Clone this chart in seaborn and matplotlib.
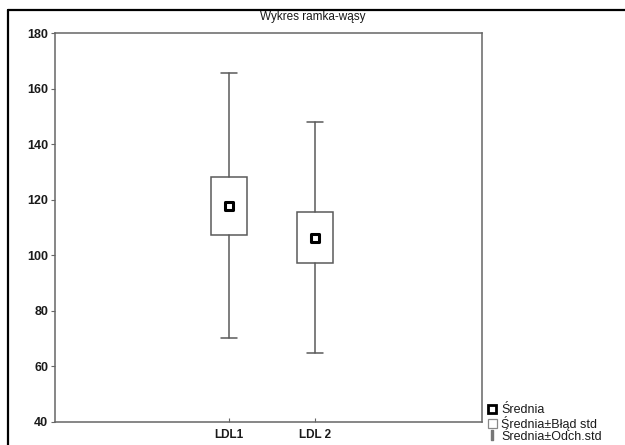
import matplotlib
matplotlib.use("Agg")
import matplotlib.pyplot as plt
import seaborn as sns
import pandas as pd
from matplotlib.lines import Line2D
from matplotlib.patches import Rectangle

# ---- data ----
categories = ["LDL1", "LDL 2"]
means = [117.8, 106.3]
std_errors = [10.5, 9.2]
std_devs = [47.7, 41.6]
y_ticks = [40, 60, 80, 100, 120, 140, 160, 180]
title = "Wykres ramka-wąsy"
legend_labels = ["Średnia", "Średnia±Błąd std", "Średnia±Odch.std"]

sns.set_style("ticks")
plt.rcParams['font.family'] = ['Liberation Sans', 'DejaVu Sans']

df = pd.DataFrame({"kategoria": categories, "srednia": means,
                   "se": std_errors, "sd": std_devs})
df["pos"] = range(len(df))

fig = plt.figure(figsize=(6.25, 4.45), dpi=100)
W, H = 625, 445
ax = fig.add_axes([55 / W, 1 - 422 / H, (482 - 55) / W, (422 - 33) / H])

grey = "#5a5a5a"
stats = []
for _, r in df.iterrows():
    stats.append(dict(med=r.srednia, q1=r.srednia - r.se, q3=r.srednia + r.se,
                      whislo=r.srednia - r.sd, whishi=r.srednia + r.sd,
                      mean=r.srednia, fliers=[], label=r.kategoria))
ax.bxp(stats, positions=df["pos"].tolist(), widths=0.42, showfliers=False,
       patch_artist=True, manage_ticks=False,
       boxprops=dict(facecolor="white", edgecolor=grey, linewidth=1.1),
       whiskerprops=dict(color=grey, linewidth=1.1),
       capprops=dict(color=grey, linewidth=1.1),
       medianprops=dict(linewidth=0), capwidths=0.18)

sns.scatterplot(data=df, x="pos", y="srednia", marker="s", s=38,
                facecolor="white", edgecolor="black", linewidth=2.2,
                zorder=5, ax=ax, legend=False)

ax.set_xlim(-2.02, 2.94)
ax.set_ylim(40, 180)
ax.set_yticks(y_ticks)
ax.set_xticks(df["pos"].tolist())
ax.set_xticklabels(categories)
ax.set_xlabel("")
ax.set_ylabel("")
for s in ax.spines.values():
    s.set_visible(True)
    s.set_color("#666666")
    s.set_linewidth(1.1)
ax.tick_params(axis="y", direction="out", length=3, width=0.8, color="#666666",
               labelsize=9, labelcolor="#1a1a1a", pad=2)
ax.tick_params(axis="x", direction="in", length=3, width=0.8, color="#666666",
               labelsize=8.5, labelcolor="#1a1a1a", pad=5)
for lab in ax.get_xticklabels() + ax.get_yticklabels():
    lab.set_fontweight("bold")

fig.text(0.5, 1 - 17 / H, title, ha="center", va="center", fontsize=8.5,
         color="#1a1a1a")

# outer frame (scan border)
fig.add_artist(Line2D([8 / W, 8 / W], [0, 1 - 10 / H], transform=fig.transFigure,
                      color="black", linewidth=1.6))
fig.add_artist(Line2D([8 / W, 1], [1 - 10 / H, 1 - 10 / H], transform=fig.transFigure,
                      color="black", linewidth=1.6))

handles = [
    Line2D([], [], linestyle="none", marker="s", markersize=5.5,
           markerfacecolor="white", markeredgecolor="black", markeredgewidth=2),
    Rectangle((0, 0), 1, 1, facecolor="white", edgecolor="#888888", linewidth=0.9),
    Line2D([], [], linestyle="none", marker=r"$\mathsf{I}$", markersize=7,
           color="#777777"),
]
leg = fig.legend(handles, legend_labels, loc="upper left",
                 bbox_to_anchor=(488 / W, 1 - 404 / H), frameon=False,
                 fontsize=9, handlelength=0.7, handleheight=0.7,
                 handletextpad=0.35, labelspacing=-0.02, borderpad=0,
                 borderaxespad=0)
for t in leg.get_texts():
    t.set_color("#1a1a1a")

fig.savefig("out.png", dpi=100)
